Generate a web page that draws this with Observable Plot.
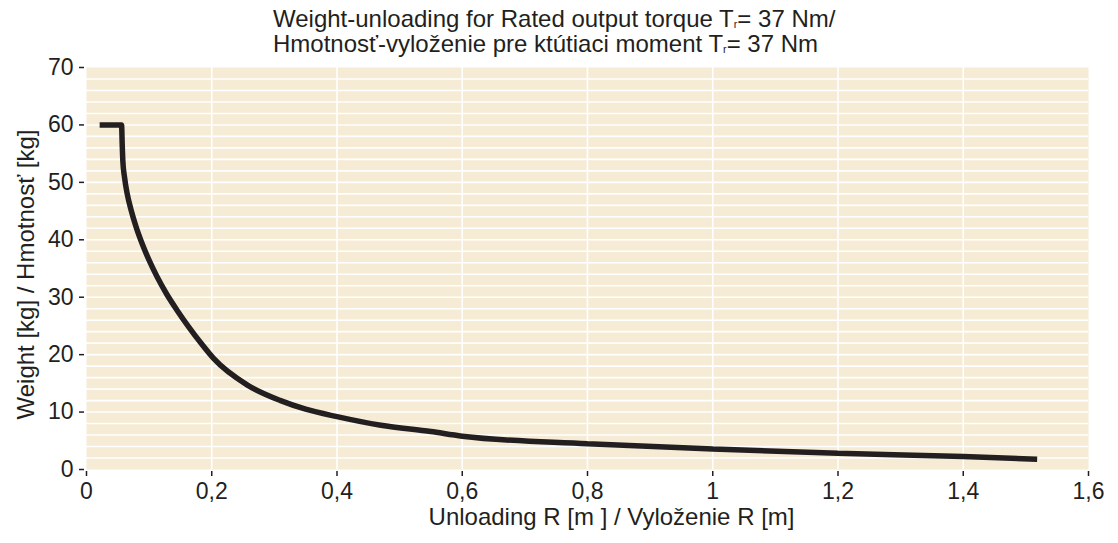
<!DOCTYPE html>
<html>
<head>
<meta charset="utf-8">
<script src="https://cdn.jsdelivr.net/npm/d3@7"></script>
<script src="https://cdn.jsdelivr.net/npm/@observablehq/plot@0.6"></script>
<style>
  html, body { margin: 0; padding: 0; background: #fff; }
  body { width: 1118px; height: 543px; overflow: hidden; font-family: "Liberation Sans", Arial, sans-serif; color: #231f20; }
  #title { position: relative; height: 58px; box-sizing: border-box; padding-top: 6px; padding-left: 273px; font-size: 24px; line-height: 25px; white-space: nowrap; }
  #title sub { font-size: 0.45em; vertical-align: -0.1em; line-height: 0; }
  svg { overflow: visible; }
</style>
</head>
<body>
<div id="title">Weight-unloading for Rated output torque T<sub>r</sub>= 37 Nm/<br>Hmotnosť-vyloženie pre ktútiaci moment T<sub>r</sub>= 37 Nm</div>
<div id="chart"></div>
<script>
// Data
const radius = [0.021, 0.056, 0.057, 0.058, 0.0607, 0.065, 0.0714, 0.0793, 0.0889, 0.1001, 0.1129, 0.1277, 0.1448, 0.1634, 0.1836, 0.2033, 0.257, 0.31, 0.35, 0.4, 0.47, 0.55, 0.6, 0.8, 1.0, 1.2, 1.4, 1.518];
const weight = [60, 60, 56.7, 53.8, 50.9, 48.0, 45.1, 42.2, 39.3, 36.4, 33.5, 30.6, 27.7, 24.8, 21.9, 19.3, 14.7, 12.0, 10.5, 9.2, 7.7, 6.6, 5.8, 4.47, 3.55, 2.84, 2.26, 1.8];
const xTicks = [0, 0.2, 0.4, 0.6, 0.8, 1.0, 1.2, 1.4, 1.6];
const yTicks = [0, 10, 20, 30, 40, 50, 60, 70];
const xGrid = [0.2, 0.4, 0.6, 0.8, 1.0, 1.2, 1.4];
const yGrid = d3.range(2, 70, 2);
const xTitle = "Unloading R [m ] / Vyloženie R [m]";
const yTitle = "Weight [kg] / Hmotnosť [kg]";

const data = radius.map((r, i) => ({r, w: weight[i]}));
const fmt = d => String(d).replace(".", ",");

const ink = "#231f20";
const plot = Plot.plot({
  width: 1118,
  height: 485,
  marginTop: 9,
  marginBottom: 74,
  marginLeft: 86,
  marginRight: 30,
  style: {fontFamily: "'Liberation Sans', Arial, sans-serif", fontSize: "23px", color: ink, background: "transparent", overflow: "visible"},
  x: {domain: [0, 1.6]},
  y: {domain: [0, 70]},
  marks: [
    Plot.frame({fill: "#f6ebd5", stroke: null}),
    Plot.gridX(xGrid, {stroke: "#fff", strokeOpacity: 1, strokeWidth: 1.6}),
    Plot.gridY(yGrid, {stroke: "#fff", strokeOpacity: 1, strokeWidth: 1.6}),
    Plot.axisX(xTicks, {tickFormat: fmt, tickSize: 5, tickPadding: 6, dy: 2, label: null, fontSize: 23, stroke: ink, strokeWidth: 1.5, fill: ink}),
    Plot.axisY(yTicks, {tickSize: 5, tickPadding: 6, dx: -2, label: null, fontSize: 23, stroke: ink, strokeWidth: 1.5, fill: ink}),
    Plot.line(data, {x: "r", y: "w", stroke: ink, strokeWidth: 5.5, strokeLinecap: "butt", strokeLinejoin: "miter", curve: "monotone-x"}),
    Plot.text([xTitle], {frameAnchor: "bottom", dy: 55, dx: 24, fontSize: 24, fill: ink}),
    Plot.text([yTitle], {frameAnchor: "left", textAnchor: "middle", rotate: -90, dx: -60, dy: 6, fontSize: 24, fill: ink})
  ]
});
document.getElementById("chart").appendChild(plot);
</script>
</body>
</html>
